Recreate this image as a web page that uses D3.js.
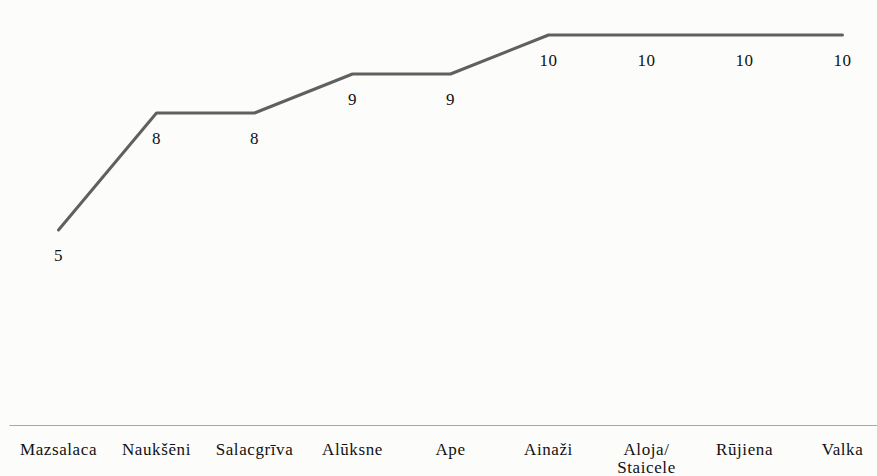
<!DOCTYPE html>
<html>
<head>
<meta charset="utf-8">
<script src="https://cdn.jsdelivr.net/npm/d3@7/dist/d3.min.js"></script>
<style>
  html, body { margin: 0; padding: 0; background: #fcfcfb; }
  svg { display: block; }
</style>
</head>
<body>
<svg id="chart" width="877" height="476"></svg>
<script>
// Municipalities along the x axis (multi-line names split by "\n")
const categories = ["Mazsalaca", "Naukšēni", "Salacgrīva", "Alūksne", "Ape", "Ainaži", "Aloja/\nStaicele", "Rūjiena", "Valka"];
// Value for each municipality
const values = [5, 8, 8, 9, 9, 10, 10, 10, 10];

const W = 877, H = 476;
const FONT = "'Liberation Serif', 'Times New Roman', serif";
const FS = 17;
const svg = d3.select("#chart");

const margin = { left: 9.5, top: 35, bottom: 425 };
const bandW = 98;

const x = d3.scaleBand()
  .domain(categories)
  .range([margin.left, margin.left + bandW * categories.length])
  .paddingInner(0).paddingOuter(0);

const y = d3.scaleLinear().domain([0, 10]).range([margin.bottom, margin.top]);

const cx = d => x(d) + x.bandwidth() / 2;

// Baseline axis
svg.append("line")
  .attr("x1", margin.left).attr("x2", W)
  .attr("y1", y(0) + 0.5).attr("y2", y(0) + 0.5)
  .attr("stroke", "#a8a8a8").attr("stroke-width", 1);

// Category labels
const lab = svg.append("g")
  .attr("font-family", FONT)
  .attr("fill", "#111")
  .attr("letter-spacing", 0.6)
  .selectAll("text")
  .data(categories)
  .join("text")
  .attr("x", d => cx(d))
  .attr("y", y(0) + 30)
  .attr("text-anchor", "middle")
  .attr("font-size", FS);
lab.each(function(d) {
  const t = d3.select(this);
  d.split("\n").forEach((part, i) => {
    t.append("tspan").attr("x", cx(d)).attr("dy", i === 0 ? 0 : 18).text(part);
  });
});

// Line series
const data = categories.map((c, i) => ({ c, v: values[i] }));
svg.append("path")
  .datum(data)
  .attr("fill", "none")
  .attr("stroke", "#606060")
  .attr("stroke-width", 3)
  .attr("stroke-linejoin", "round")
  .attr("stroke-linecap", "round")
  .attr("d", d3.line().x(d => cx(d.c)).y(d => y(d.v)));

// Value labels under each point
svg.append("g")
  .attr("font-family", FONT)
  .attr("fill", "#111")
  .attr("letter-spacing", 0.6)
  .selectAll("text")
  .data(data)
  .join("text")
  .attr("x", d => cx(d.c))
  .attr("y", d => y(d.v) + 31)
  .attr("text-anchor", "middle")
  .attr("font-size", FS)
  .text(d => d.v);
</script>
</body>
</html>
